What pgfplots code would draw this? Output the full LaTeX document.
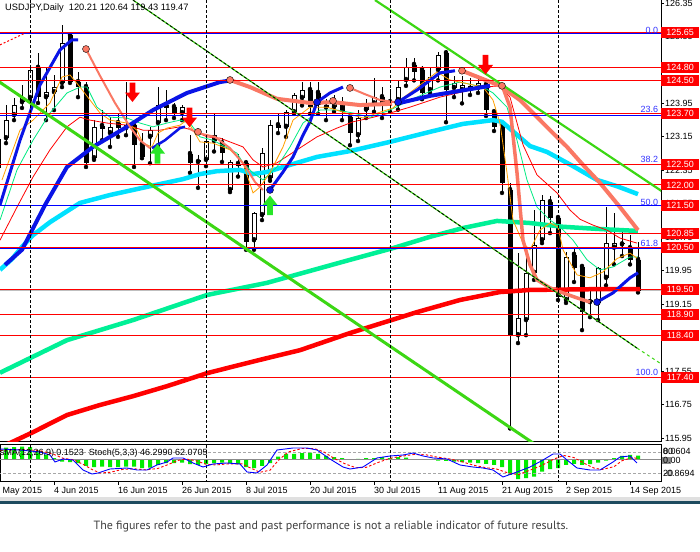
\documentclass[border=0pt]{standalone}
\usepackage{pgfplots}
\pgfplotsset{compat=1.18}
\usepackage{pgfplotstable}
\usepackage{fontspec}
\setmainfont{Liberation Sans}
\newfontfamily\ptsans{PT Sans}

\definecolor{fibblue}{RGB}{50,50,255}
\definecolor{macyan}{RGB}{0,225,255}
\definecolor{maspring}{RGB}{0,240,150}
\definecolor{salmonc}{RGB}{250,120,100}
\definecolor{limec}{RGB}{60,215,20}
\definecolor{histgreen}{RGB}{0,235,0}
\definecolor{thinspring}{RGB}{0,235,130}
\definecolor{orangec}{RGB}{255,160,0}
\definecolor{sepblue}{RGB}{30,75,95}
\definecolor{blueS}{RGB}{10,20,230}
\definecolor{arrowgreen}{RGB}{40,230,40}

\pgfdeclareplotmark{mtdown}{%
  \pgfpathmoveto{\pgfqpoint{-2.8bp}{10bp}}%
  \pgfpathlineto{\pgfqpoint{2.8bp}{10bp}}%
  \pgfpathlineto{\pgfqpoint{2.8bp}{0bp}}%
  \pgfpathlineto{\pgfqpoint{7.5bp}{0bp}}%
  \pgfpathlineto{\pgfqpoint{0bp}{-9.5bp}}%
  \pgfpathlineto{\pgfqpoint{-7.5bp}{0bp}}%
  \pgfpathlineto{\pgfqpoint{-2.8bp}{0bp}}%
  \pgfpathclose
  \pgfusepathqfill}
\pgfdeclareplotmark{mtup}{%
  \pgfpathmoveto{\pgfqpoint{-2.8bp}{-10bp}}%
  \pgfpathlineto{\pgfqpoint{2.8bp}{-10bp}}%
  \pgfpathlineto{\pgfqpoint{2.8bp}{0bp}}%
  \pgfpathlineto{\pgfqpoint{7.5bp}{0bp}}%
  \pgfpathlineto{\pgfqpoint{0bp}{9.5bp}}%
  \pgfpathlineto{\pgfqpoint{-7.5bp}{0bp}}%
  \pgfpathlineto{\pgfqpoint{-2.8bp}{0bp}}%
  \pgfpathclose
  \pgfusepathqfill}

\pgfplotstableread{
i O H L C
-7 122.40 123.30 122.05 123.10
-6 123.12 123.90 123.00 123.55
-5 123.67 124.08 123.55 123.91
-4 123.98 124.39 123.84 124.10
-3 124.08 124.80 124.03 124.75
-2 124.80 125.15 123.96 124.10
-1 124.10 124.82 123.55 124.22
0 124.22 124.63 123.79 124.34
1 124.44 125.82 124.34 125.40
2 125.58 125.66 124.44 124.46
3 124.46 124.70 124.10 124.34
4 124.34 124.46 122.43 122.52
5 122.64 123.55 122.60 123.39
6 123.41 123.79 123.07 123.34
7 123.24 123.62 122.91 123.39
8 123.48 123.72 123.15 123.36
9 123.36 124.46 123.19 123.43
10 123.43 123.55 122.43 122.96
11 122.96 123.24 122.64 122.67
12 123.15 123.39 122.52 123.31
13 123.48 124.34 122.95 123.91
14 123.91 124.27 123.55 123.84
15 123.86 123.96 123.60 123.72
16 123.72 123.90 123.55 123.86
17 122.74 123.19 122.29 122.52
18 122.55 122.71 121.93 122.60
19 122.60 123.20 122.45 123.05
20 123.05 123.70 122.80 123.20
21 123.00 123.12 122.55 122.76
22 121.88 122.60 121.83 122.55
23 122.50 122.75 122.20 122.45
24 122.52 122.60 120.45 120.64
25 120.68 121.35 120.45 121.33
26 121.28 122.88 121.16 122.76
27 122.17 123.55 122.10 123.43
28 123.43 123.72 123.24 123.36
29 123.39 123.80 123.15 123.74
30 123.74 124.20 123.70 124.15
31 124.08 124.45 123.90 124.27
32 124.27 124.46 123.70 123.86
33 124.20 124.45 123.70 123.90
34 123.85 124.05 123.55 123.90
35 123.86 124.15 123.75 123.95
36 123.93 124.10 123.55 123.75
37 123.62 123.75 122.95 123.24
38 123.19 123.80 123.05 123.60
39 123.80 124.05 123.60 123.95
40 123.95 124.55 123.75 124.10
41 124.10 124.35 123.60 123.95
42 123.98 124.30 123.75 123.95
43 124.03 124.50 123.80 124.34
44 124.51 125.03 124.37 124.82
45 124.87 125.03 124.50 124.70
46 124.75 124.85 124.05 124.20
47 124.27 124.80 124.20 124.58
48 124.75 125.18 124.50 125.11
49 125.15 125.23 123.50 124.27
50 124.32 124.60 124.10 124.44
51 124.27 124.60 123.95 124.39
52 124.30 124.55 124.15 124.37
53 124.32 124.55 124.20 124.44
54 124.39 124.46 123.65 123.79
55 123.74 123.78 123.29 123.38
56 123.43 123.50 121.81 122.05
57 121.88 122.05 116.18 118.41
58 118.41 120.37 118.22 118.82
59 118.77 120.28 118.41 119.90
60 119.90 121.40 119.73 120.56
61 120.68 121.76 120.61 121.64
62 121.59 121.74 120.85 121.21
63 121.21 121.28 119.25 119.32
64 119.25 120.40 119.18 120.28
65 120.33 120.52 119.68 120.01
66 120.04 120.10 118.53 118.96
67 119.20 119.56 118.84 119.25
68 119.18 120.05 118.77 120.01
69 119.78 121.47 119.60 120.61
70 120.50 121.33 120.10 120.61
71 120.58 120.90 120.30 120.61
72 120.49 120.80 120.10 120.21
73 120.21 120.64 119.43 119.47
}\candles

\pgfplotstableread{
i v
-6 0.49
-5 0.51
-4 0.53
-3 0.51
-2 0.37
-1 0.20
0 0.07
1 -0.07
2 -0.09
3 -0.13
4 -0.24
5 -0.29
6 -0.27
7 -0.29
8 -0.29
9 -0.27
10 -0.27
11 -0.33
12 -0.31
13 -0.20
14 -0.13
15 -0.13
16 -0.11
17 -0.17
18 -0.20
19 -0.17
20 -0.13
21 -0.11
22 -0.13
23 -0.17
24 -0.29
25 -0.33
26 -0.24
27 -0.13
28 0.13
29 0.24
30 0.24
31 0.27
32 0.29
33 0.24
34 0.16
35 0.11
36 0.07
37 0.03
38 0.04
39 0.07
40 0.07
41 0.11
42 0.07
43 0.11
44 0.09
45 0.03
46 0.03
47 0.01
48 -0.03
49 -0.04
50 -0.07
51 -0.09
52 -0.11
53 -0.13
54 -0.16
55 -0.20
56 -0.29
57 -0.60
58 -0.77
59 -0.73
60 -0.67
61 -0.47
62 -0.37
63 -0.33
64 -0.20
65 -0.16
66 -0.20
67 -0.17
68 -0.11
69 -0.03
70 0.07
71 0.16
72 0.20
73 0.17
}\osma

\begin{document}
\begin{tikzpicture}
\clip (0bp,0bp) rectangle (700bp,552bp);
\fill[white] (0bp,0bp) rectangle (700bp,552bp);

\begin{axis}[
  at={(0bp,110bp)}, anchor=south west, width=661bp, height=442bp, scale only axis,
  xmin=-6.75, xmax=75.875, ymin=115.855, ymax=126.422,
  axis x line*=bottom, axis y line*=right,
  axis line style={-, black, line width=1bp},
  xtick=\empty,
  ytick={115.95,116.75,117.55,118.35,119.15,119.95,120.75,121.55,122.35,123.15,123.95,124.75,125.55,126.35},
  tick align=outside, major tick length=3bp,
  tick style={black, line width=0.8bp},
  tick label style={font=\fontsize{9}{10}\selectfont},
  yticklabel style={anchor=west, inner sep=1bp, /pgf/number format/fixed, /pgf/number format/fixed zerofill, /pgf/number format/precision=2, /pgf/number format/assume math mode=true},
  extra y ticks={125.65,124.80,124.50,123.70,122.50,122.00,121.50,120.85,120.50,119.50,118.90,118.40,117.40},
  extra y tick labels={125.65,124.80,124.50,123.70,122.50,122.00,121.50,120.85,120.50,119.50,118.90,118.40,117.40},
  extra y tick style={major tick length=0bp, yticklabel style={fill=red, text=white, minimum width=38bp, minimum height=11bp, inner sep=1bp}},
  clip mode=individual,
]
% current price line
\addplot[black!25, line width=1bp] coordinates {(-7,119.47)(76,119.47)};
% candles: wicks
\addplot[only marks, mark=none, forget plot, error bars/.cd, y dir=plus, y explicit, error mark=none, error bar style={black, line width=1bp}]
  table[x=i, y=L, y error expr=\thisrow{H}-\thisrow{L}] {\candles};
% bodies
\addplot[only marks, mark=none, forget plot, error bars/.cd, y dir=plus, y explicit, error mark=none, error bar style={black, line width=5bp}]
  table[x=i, y=O, y error expr=\thisrow{C}-\thisrow{O}] {\candles};
\addplot[only marks, mark=none, forget plot, error bars/.cd, y dir=plus, y explicit, error mark=none, error bar style={white, line width=3bp}]
  table[x=i, y expr=\thisrow{O}+0.024, y error expr={max(\thisrow{C}-\thisrow{O}-0.048,0)}] {\candles};

% MA 200 (thick red)
\addplot[red, line width=4.5bp] coordinates {(-6.75,115.74)(-5.5,115.83)(-2.625,116.09)(1.625,116.50)(5.75,116.74)(9.875,116.95)(14.125,117.19)(19.125,117.50)(23.25,117.70)(26.625,117.86)(30.75,118.05)(37,118.46)(45.375,118.96)(50.75,119.25)(55.75,119.44)(59.5,119.49)(68.25,119.51)(73.25,119.51)};
% MA 100 (spring green)
\addplot[maspring, line width=4.5bp] coordinates {(-6.75,117.51)(1.625,118.29)(9.875,118.77)(19.125,119.37)(26.625,119.66)(37,120.21)(42.375,120.49)(47,120.76)(51.125,120.97)(55.375,121.14)(59.5,121.09)(63.625,121.00)(67.875,120.95)(73,120.90)};
% MA 50 (cyan)
\addplot[macyan, line width=4.5bp] coordinates {(-6.75,119.97)(-5.25,120.23)(-4,120.52)(-2.625,120.80)(-0.5,121.11)(3.25,121.57)(7,121.76)(12,121.97)(16.125,122.14)(18.25,122.26)(20.375,122.33)(23.25,122.36)(24.875,122.26)(26.625,122.31)(29.5,122.48)(32.875,122.67)(37,122.81)(42,123.03)(47,123.27)(51.125,123.46)(54.875,123.55)(56,123.51)(57.625,123.24)(59.5,122.93)(61.625,122.79)(64.875,122.45)(67.875,122.12)(70.375,121.97)(73,121.78)};
% thin red
\addplot[red, line width=0.8bp] coordinates {(-6.75,120.68)(-4.625,121.47)(-2.625,122.19)(-0.5,122.84)(1.625,123.39)(3.25,123.62)(4.5,123.55)(6.625,123.48)(9.125,123.43)(11.125,123.31)(13.25,123.31)(15.75,123.39)(17.375,123.31)(19.125,123.15)(20.75,123.12)(23.625,122.91)(24.875,122.60)(26.125,122.43)(27.875,122.53)(30.375,122.84)(32.875,123.15)(35.375,123.36)(37.375,123.51)(39.5,123.60)(42,123.72)(44.5,123.86)(48.25,124.10)(53.625,124.34)(55.75,124.37)(57,124.10)(58.625,122.96)(60.375,122.24)(62.875,121.81)(64.5,121.40)(65.75,121.18)(67.375,121.04)(69.125,120.92)(70.75,120.73)(72.875,120.61)};
% thin spring green
\addplot[thinspring, line width=0.8bp] coordinates {(-6.75,121.16)(-4.625,122.36)(-2.625,123.07)(-0.5,123.72)(1.625,124.20)(3.25,124.34)(4.125,124.34)(5.375,123.86)(7,123.62)(9.125,123.60)(10.75,123.48)(12.375,123.39)(14.125,123.48)(15.75,123.55)(17,123.48)(18.25,123.15)(19.875,123.07)(22.875,122.76)(23.625,122.53)(24.875,122.29)(26.125,122.12)(27.875,122.43)(29.5,122.91)(31.125,123.48)(33.25,123.79)(35.375,123.79)(37.375,123.72)(39.5,123.62)(42,123.79)(44.5,124.03)(48.25,124.34)(50.75,124.46)(53.625,124.34)(54.875,124.20)(56.625,123.86)(57.875,123.07)(59.125,122.12)(60.375,121.47)(62,121.16)(63.25,121.00)(64.875,120.68)(66.625,120.21)(68.25,119.97)(69.875,120.04)(72,120.28)(73,120.28)};
% thin orange
\addplot[orangec, line width=0.8bp] coordinates {(-6.5,122.12)(-4.25,123.31)(-2.625,123.55)(-0.5,123.96)(1,124.58)(2,124.63)(3.25,124.34)(4.5,124.03)(5.75,123.72)(7,123.55)(9.125,123.48)(10.375,123.31)(11.125,123.00)(12.25,122.91)(13,123.24)(14.125,123.36)(15.75,123.43)(16.625,123.55)(17.375,123.31)(18.25,123.03)(19.875,123.00)(22,122.84)(23.625,122.53)(24.875,121.81)(25.75,121.95)(27,122.29)(28.625,122.91)(29.875,123.55)(32,123.86)(34.125,123.86)(36.125,123.74)(38.625,123.60)(40.75,123.74)(42.375,123.84)(43.625,124.08)(45.75,124.39)(47.875,124.70)(49.5,124.51)(53.625,124.34)(54.875,124.03)(55.75,123.48)(56.625,122.29)(57.375,121.16)(58.625,120.61)(59.5,120.45)(60.75,120.92)(62,121.09)(63,121.00)(63.625,120.45)(65.375,119.85)(67,119.78)(68.625,119.92)(70.375,120.24)(72,120.37)(72.875,120.25)};

% slow adaptive line (thick blue / salmon)
\addplot[blueS, line width=4bp] coordinates {(-6.125,120.09)(-4,120.45)(-1.125,121.52)(1.625,122.43)(4.875,122.91)(9.125,123.39)(12.375,123.79)(16.625,124.20)(20.75,124.46)(21.75,124.49)};
\addplot[salmonc, line width=4bp] coordinates {(22,124.51)(24.5,124.34)(27.875,124.06)(32,123.96)(34.875,123.98)(38.25,123.91)(42.25,123.94)};
\addplot[blueS, line width=4bp] coordinates {(42.75,123.94)(47,124.13)(50.75,124.25)(54.5,124.37)};
\addplot[salmonc, line width=3.5bp] coordinates {(56,124.39)(57,123.86)(57.875,122.29)(58.625,120.68)(59.5,120.09)(60.375,119.73)(62,119.54)(63.625,119.42)(65.375,119.30)(67,119.20)};
\addplot[blueS, line width=3bp] coordinates {(67.875,119.20)(69.875,119.42)(72,119.78)(73,119.90)};
% fast adaptive line
\addplot[blueS, line width=3bp] coordinates {(-6.75,121.52)(-4.25,123.07)(-1.75,124.39)(0.75,125.23)(2.25,125.47)(3,125.47)};
\addplot[salmonc, line width=2bp] coordinates {(4,125.25)(5.75,124.61)(7.625,123.96)(9.5,123.39)(10.75,123.07)(12,122.88)};
\addplot[blueS, line width=2.5bp] coordinates {(12.25,122.88)(13.875,123.07)(15.75,123.36)(16.375,123.39)};
\addplot[salmonc, line width=2bp] coordinates {(16.75,123.36)(18,123.24)(20.125,123.15)(22,122.88)(23.875,122.46)(25.125,122.07)(26.125,121.88)};
\addplot[blueS, line width=3bp] coordinates {(27,121.88)(28.625,122.31)(29.875,122.67)(31.125,123.19)(32,123.51)(32.875,123.98)(34.5,124.20)(36.125,124.34)};
\addplot[salmonc, line width=2bp] coordinates {(37,124.32)(38.875,124.17)(40.75,124.03)(42.625,123.98)};
\addplot[blueS, line width=3bp] coordinates {(43,123.98)(45.375,124.27)(48.25,124.68)(50.125,124.73)};
\addplot[salmonc, line width=4bp] coordinates {(51,124.73)(53.25,124.56)(55.75,124.37)(58.25,124.03)(59.875,123.72)(62,123.31)(64.125,122.91)(66.125,122.48)(68.25,122.05)(70.75,121.47)(73,120.92)};

% horizontal levels
\pgfplotsinvokeforeach{125.61,123.67,122.48,121.50,120.47,117.40}{\addplot[blue, line width=1bp] coordinates {(-7,#1)(76,#1)};}
\pgfplotsinvokeforeach{125.65,124.80,124.50,123.70,122.50,122.00,120.85,120.50,119.50,118.90,118.40,117.40}{\addplot[red, line width=1bp] coordinates {(-7,#1)(76,#1)};}

% trend lines
\addplot[limec, line width=2.2bp] coordinates {(40.125,126.42)(75.75,121.88)(78.25,121.55)};
\addplot[limec, line width=3bp] coordinates {(-7.5,124.55)(59.5,115.88)(60.75,115.71)};
\addplot[limec, line width=1.2bp] coordinates {(9.875,126.42)(72.875,118.10)};
\addplot[black, line width=0.8bp, dash pattern=on 3bp off 2bp] coordinates {(9.875,126.42)(72.875,118.10)};
\addplot[limec, line width=1bp, dash pattern=on 3bp off 3bp] coordinates {(72.875,118.10)(75.75,117.74)};
\addplot[red, line width=1bp, dash pattern=on 2bp off 2bp] coordinates {(-6.75,125.35)(-3.625,125.63)};

% dashed verticals
\pgfplotsinvokeforeach{-3,19.1,42.1,63}{\addplot[black, line width=0.8bp, dash pattern=on 3bp off 2bp] coordinates {(#1,115)(#1,127)};}

% dots
\addplot[only marks, mark=*, mark size=3.5bp, mark options={fill=salmonc, draw=none}] coordinates {(4,125.25)(18,123.27)(22,124.51)(34.875,124.01)(37,124.32)(51,124.73)(56,124.37)};
\addplot[only marks, mark=*, mark size=3.5bp, mark options={fill=blueS, draw=none}] coordinates {(27,121.88)(32.875,123.98)(43,123.98)(67.875,119.20)};
% arrows
\addplot[only marks, mark=mtdown, mark options={fill=red, draw=none}] coordinates {(9.81,124.21)(16.94,123.61)(53.94,124.87)};
\addplot[only marks, mark=mtup, mark options={fill=arrowgreen, draw=none}] coordinates {(12.94,122.75)(27,121.52)};

% fib labels
\node[anchor=south east, text=fibblue, inner sep=0.5bp, font=\fontsize{9}{10}\selectfont] at (axis cs:75.6,125.61) {0.0};
\node[anchor=south east, text=fibblue, inner sep=0.5bp, font=\fontsize{9}{10}\selectfont] at (axis cs:75.6,123.72) {23.6};
\node[anchor=south east, text=fibblue, inner sep=0.5bp, font=\fontsize{9}{10}\selectfont] at (axis cs:75.6,122.52) {38.2};
\node[anchor=south east, text=fibblue, inner sep=0.5bp, font=\fontsize{9}{10}\selectfont] at (axis cs:75.6,121.50) {50.0};
\node[anchor=south east, text=fibblue, inner sep=0.5bp, font=\fontsize{9}{10}\selectfont] at (axis cs:75.6,120.52) {61.8};
\node[anchor=south east, text=fibblue, inner sep=0.5bp, font=\fontsize{9}{10}\selectfont] at (axis cs:75.6,117.42) {100.0};
\end{axis}

% indicator: OsMA histogram
\begin{axis}[
  at={(0bp,70bp)}, anchor=south west, width=661bp, height=37bp, scale only axis,
  xmin=-6.75, xmax=75.875, ymin=-0.88, ymax=0.60,
  axis line style={black, line width=1bp},
  xtick={0,8,16,24,32,40,48,56,64,72},
  xticklabels={4 Jun 2015,16 Jun 2015,26 Jun 2015,8 Jul 2015,20 Jul 2015,30 Jul 2015,11 Aug 2015,21 Aug 2015,2 Sep 2015,14 Sep 2015},
  xtick pos=left, ytick=\empty,
  tick align=outside, major tick length=3bp,
  tick style={black, line width=0.8bp},
  xticklabel style={anchor=north west, inner sep=0pt, yshift=-2bp, font=\fontsize{9}{10}\selectfont},
]
\addplot[ybar, bar width=4bp, fill=histgreen, draw=none] table[x=i, y=v] {\osma};
\addplot[black!45, line width=1bp] coordinates {(-7,0)(76,0)};
\end{axis}

% indicator: stochastic
\begin{axis}[
  at={(0bp,70bp)}, anchor=south west, width=661bp, height=37bp, scale only axis,
  xmin=-6.75, xmax=75.875, ymin=-5.714, ymax=100, hide axis,
]
\addplot[black!35, line width=0.8bp, dash pattern=on 3bp off 2bp] coordinates {(-7,80)(76,80)};
\addplot[black!35, line width=0.8bp, dash pattern=on 3bp off 2bp] coordinates {(-7,20)(76,20)};
\pgfplotsinvokeforeach{-3,19.1,42.1,63}{\addplot[black, line width=0.8bp, dash pattern=on 3bp off 2bp] coordinates {(#1,-10)(#1,110)};}
\addplot[red, line width=0.9bp, dash pattern=on 2.5bp off 2bp] coordinates {(-6.75,85)(-4.25,87)(-1.75,84)(0.125,72)(1.125,62)(2.375,58)(3.625,45)(4.75,30)(5.75,20)(7,22)(8.5,30)(10,32)(11.5,29)(13,33)(14.25,44)(15.5,56)(16.5,60)(17.75,55)(19,45)(20.25,43)(21.75,46)(23.5,46)(24.5,35)(25.75,22)(27,28)(28,55)(29.25,80)(31,90)(32.5,90)(33.75,80)(35,62)(36.5,45)(37.75,35)(39,36)(40.5,50)(42,62)(43.5,68)(45,73)(46.5,72)(47.75,66)(49.5,60)(51,52)(52.5,42)(54,35)(55.25,32)(56.5,22)(58,15)(59.5,28)(61,42)(62.5,60)(63.75,70)(65,64)(66.25,48)(67.5,34)(68.5,30)(70,38)(71,55)(72.25,64)(72.875,62)};
\addplot[blue, line width=0.9bp] coordinates {(-6.75,88.6)(-4.25,85.7)(-1.75,80)(-0.5,71.4)(0.125,51.4)(1.125,60)(2.375,57.1)(3.625,28.6)(4.75,17.1)(5.5,20)(7,31.4)(9.125,34.3)(10.375,28.6)(11.625,28.6)(12.875,42.9)(14.125,51.4)(14.875,62.9)(16.125,62.9)(17.375,48.6)(18.625,37.1)(19.875,45.7)(21.625,48.6)(23.25,45.7)(24.125,22.9)(25.375,20)(26.625,42.9)(27.875,85.7)(29.875,91.4)(31.625,91.4)(32.875,85.7)(34.5,60)(36.125,37.1)(37,31.4)(38.625,37.1)(40.375,62.9)(42,68.6)(43.625,71.4)(44.875,77.1)(46.125,68.6)(47.375,62.9)(49.125,60)(50.75,42.9)(52.375,37.1)(53.625,34.3)(54.875,28.6)(56.125,8.6)(57.875,22.9)(59.5,37.1)(61.125,57.1)(62.375,74.3)(63.25,74.3)(64.125,57.1)(65.375,34.3)(67,28.6)(68.25,28.6)(69.875,51.4)(70.75,65.7)(72,68.6)(72.875,48.6)};
\end{axis}

% texts
\node[anchor=west, inner sep=0pt, font=\fontsize{9.3}{10}\selectfont] at (5bp,544bp) {USDJPY,Daily\ \ 120.21 120.64 119.43 119.47};
\node[anchor=west, inner sep=0pt, font=\fontsize{9}{10}\selectfont] at (-7bp,99bp) {OsMA(12,26,9) 0.1523\ \ Stoch(5,3,3) 46.2990 62.0705};
\node[anchor=north west, inner sep=0pt, font=\fontsize{9}{10}\selectfont] at (-10bp,65bp) {25 May 2015};
\fill[black!45] (662bp,88bp) rectangle (671bp,95bp);
\node[anchor=west, inner sep=0pt, font=\fontsize{9}{10}\selectfont] at (663bp,101bp) {80};
\node[anchor=west, inner sep=0pt, font=\fontsize{9}{10}\selectfont] at (663bp,101bp) {0.0604};
\node[anchor=west, inner sep=0pt, font=\fontsize{9}{10}\selectfont] at (663bp,92bp) {0.00};
\node[anchor=west, inner sep=0pt, font=\fontsize{9}{10}\selectfont] at (663bp,79bp) {20};
\node[anchor=west, inner sep=0pt, font=\fontsize{9}{10}\selectfont] at (664bp,79bp) {-0.8694};
\fill[black!12] (0bp,51bp) rectangle (700bp,55bp);
\fill[sepblue] (0bp,48bp) rectangle (700bp,51bp);
\node[font=\ptsans\fontsize{12}{14}\selectfont, text=black!75] at (331bp,25bp) {The figures refer to the past and past performance is not a reliable indicator of future results.};
\end{tikzpicture}
\end{document}
